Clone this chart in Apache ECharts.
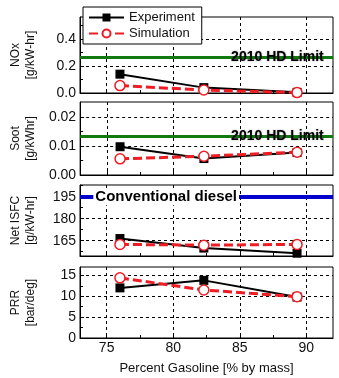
<!DOCTYPE html>
<html><head><meta charset="utf-8">
<script src="https://cdn.jsdelivr.net/npm/echarts@6/dist/echarts.min.js"></script>
<style>html,body{margin:0;padding:0;background:#fff}#c{width:339px;height:378px}</style>
</head><body><div id="c"></div>
<script>
// ---- data ----
const gasoline = [76.0, 82.3, 89.3];
const noxExp = [0.14, 0.04, 0.005];
const noxSim = [0.055, 0.022, 0.003];
const sootExp = [0.0098, 0.0057, 0.0078];
const sootSim = [0.0056, 0.0065, 0.0079];
const isfcExp = [166.5, 160, 156.5];
const isfcSim = [162.5, 162, 162.5];
const prrExp = [12.0, 13.8, 9.8];
const prrSim = [14.4, 11.5, 9.9];
const noxLimit = 0.268;
const sootLimit = 0.0134;
const dieselIsfc = 195;
const xTicks = [75, 80, 85, 90];
const xMinorTicks = [77.5, 82.5, 87.5];
const noxTicks = [0, 0.2, 0.4];
const sootTicks = [0, 0.01, 0.02];
const isfcTicks = [165, 180, 195];
const prrTicks = [0, 5, 10, 15];
const legendNames = ['Experiment', 'Simulation'];
const xName = 'Percent Gasoline [% by mass]';
const limitText = '2010 HD Limit';
const dieselText = 'Conventional diesel';

// ---- layout / style ----
const FONT = '"Liberation Sans", Arial, sans-serif';
const RED = '#ee1c24';
const XMIN = 73, XMAX = 92;
const panels = [
  {name: 'NOx\n[g/kW-hr]', min: 0, max: 0.565, ticks: noxTicks, minor: [0.1, 0.3, 0.5], dec: 1,
   exp: noxExp, sim: noxSim, top: 17, height: 76, limit: noxLimit, color: '#107a10', text: limitText},
  {name: 'Soot\n[g/kWhr]', min: 0, max: 0.0253, ticks: sootTicks, minor: [0.005, 0.015], dec: 2,
   exp: sootExp, sim: sootSim, top: 102, height: 73, limit: sootLimit, color: '#107a10', text: limitText},
  {name: 'Net ISFC\n[g/kW-hr]', min: 154.6, max: 203, ticks: isfcTicks, minor: [157.5, 172.5, 187.5, 202.5], dec: 0,
   exp: isfcExp, sim: isfcSim, top: 185, height: 71, limit: dieselIsfc, color: '#0000cc', text: dieselText},
  {name: 'PRR\n[bar/deg]', min: 0, max: 17, ticks: prrTicks, minor: [2.5, 7.5, 12.5], dec: 0,
   exp: prrExp, sim: prrSim, top: 267, height: 71}
];

const grid = [], xAxis = [], yAxis = [], series = [];
panels.forEach((p, i) => {
  const last = i === panels.length - 1;
  grid.push({left: 75, right: 6, top: p.top, height: p.height, show: true,
    borderColor: '#000', borderWidth: 1, backgroundColor: 'transparent'});
  xAxis.push({type: 'value', gridIndex: i, min: XMIN, max: XMAX,
    axisLine: {show: true, lineStyle: {color: '#000', width: 1}},
    axisTick: {show: true, inside: true, length: 4, customValues: xTicks, lineStyle: {color: '#000'}},
    axisLabel: {show: last, customValues: xTicks, color: '#111', fontSize: 14, fontFamily: FONT, margin: 3},
    splitLine: {show: true, lineStyle: {color: '#000', width: 1, type: [3, 3]}},
    name: last ? xName : '', nameLocation: 'middle', nameGap: 24,
    nameTextStyle: {color: '#111', fontSize: 13, fontFamily: FONT}
  });
  xAxis.push({type: 'value', gridIndex: i, min: XMIN, max: XMAX, position: 'bottom',
    axisLine: {show: false},
    axisTick: {show: true, inside: true, length: 3, customValues: xMinorTicks, lineStyle: {color: '#000'}},
    axisLabel: {show: false}, splitLine: {show: false}});
  yAxis.push({type: 'value', gridIndex: i, min: p.min, max: p.max,
    axisLine: {show: true, lineStyle: {color: '#000', width: 1}},
    axisTick: {show: true, inside: true, length: 4, customValues: p.ticks, lineStyle: {color: '#000'}},
    axisLabel: {show: true, customValues: p.ticks, color: '#111', fontSize: 14, fontFamily: FONT, margin: 4,
      formatter: v => v.toFixed(p.dec)},
    splitLine: {show: true, lineStyle: {color: '#000', width: 1, type: [3, 3]}},
    name: p.name, nameLocation: 'middle', nameRotate: 90, nameGap: 42,
    nameTextStyle: {color: '#111', fontSize: 12, fontFamily: FONT, lineHeight: 15, align: 'center'}
  });
  yAxis.push({type: 'value', gridIndex: i, min: p.min, max: p.max, position: 'left',
    axisLine: {show: false},
    axisTick: {show: true, inside: true, length: 3, customValues: p.minor, lineStyle: {color: '#000'}},
    axisLabel: {show: false}, splitLine: {show: false}});

  const expSeries = {
    name: legendNames[0], type: 'line', xAxisIndex: 2 * i, yAxisIndex: 2 * i,
    data: gasoline.map((g, k) => [g, p.exp[k]]),
    symbol: 'rect', symbolSize: 9, z: 3,
    lineStyle: {color: '#000', width: 2}, itemStyle: {color: '#000'}
  };
  if (p.limit !== undefined) {
    const isDiesel = p.color === '#0000cc';
    expSeries.markLine = {silent: true, symbol: 'none', z: 2,
      lineStyle: {color: p.color, width: isDiesel ? 4 : 3, type: 'solid'},
      label: {show: false},
      data: [[{coord: [XMIN, p.limit]}, {coord: [XMAX, p.limit]}]]};
    expSeries.markPoint = {silent: true, symbol: 'circle', symbolSize: 0, z: 5,
      data: [{coord: [isDiesel ? 74.0 : 91.3, p.limit],
        label: {show: true, position: isDiesel ? 'right' : 'left', distance: 0,
          formatter: p.text, color: '#000', fontSize: isDiesel ? 15 : 14, fontWeight: 'bold', fontFamily: FONT,
          backgroundColor: isDiesel ? '#fff' : 'transparent', padding: isDiesel ? [1, 2] : 0,
          textShadowColor: isDiesel ? 'transparent' : 'rgba(0,0,0,0.35)', textShadowBlur: isDiesel ? 0 : 2}}]};
  }
  series.push(expSeries);
  series.push({
    name: legendNames[1], type: 'line', xAxisIndex: 2 * i, yAxisIndex: 2 * i,
    data: gasoline.map((g, k) => [g, p.sim[k]]),
    symbol: 'circle', symbolSize: 10, z: 4,
    lineStyle: {color: RED, width: 3, type: [9, 4]},
    itemStyle: {color: '#fff', borderColor: RED, borderWidth: 1.5}
  });
});

const chart = echarts.init(document.getElementById('c'), null, {renderer: 'canvas'});
chart.setOption({
  animation: false,
  backgroundColor: '#fff',
  grid, xAxis, yAxis, series,
  legend: {data: legendNames, orient: 'vertical', left: 83, top: 7,
    backgroundColor: '#fff', borderColor: '#000', borderWidth: 1, padding: [4, 7, 4, 5],
    itemWidth: 35, itemHeight: 10, itemGap: 3, z: 10,
    textStyle: {color: '#111', fontSize: 13, fontFamily: FONT}}
});
</script></body></html>
